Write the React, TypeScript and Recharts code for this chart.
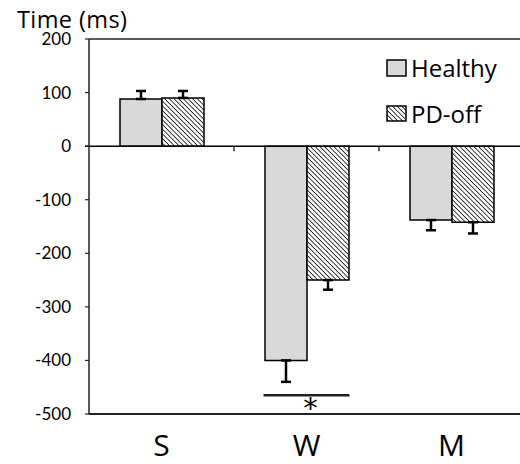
import { BarChart, Bar, XAxis, YAxis, ErrorBar, ReferenceLine } from "recharts";

const categories = ["S", "W", "M"];
const healthy = [88, -400, -138];
const healthyErr = [15, 40, 19];
const pdOff = [90, -250, -142];
const pdOffErr = [13, 18, 21];
const yTicks = [200, 100, 0, -100, -200, -300, -400, -500];
const sigCategory = "W";
const sigLevel = -465;

const FONT = "Lato, 'Open Sans', sans-serif";
const LABEL_FONT = "'Open Sans', sans-serif";
const BAR = 42;

// one-sided error: away from zero only
const oneSided = (v: number, e: number) => (v >= 0 ? [0, e] : [e, 0]);

const data = categories.map((c, i) => ({
    cat: c,
    healthy: healthy[i],
    healthyErr: oneSided(healthy[i], healthyErr[i]),
    pdOff: pdOff[i],
    pdOffErr: oneSided(pdOff[i], pdOffErr[i]),
}));

const Hatch = ({ id }: { id: string }) => (
    <pattern id={id} width="3.3" height="3.3" patternUnits="userSpaceOnUse" patternTransform="rotate(-45)">
        <rect width="3.3" height="3.3" fill="#fff" />
        <line x1="0" y1="0" x2="0" y2="3.3" stroke="#000" strokeWidth="1.5" />
    </pattern>
);

const LegendBox = () => (
    <div style={{ position: "absolute", left: 386, top: 53, fontFamily: LABEL_FONT, fontSize: 24, color: "#000", lineHeight: "30px" }}>
        <div style={{ display: "flex", alignItems: "center", height: 30 }}>
            <svg width={22} height={18} style={{ marginRight: 3 }}>
                <rect x={1} y={1} width={19} height={16} fill="#d9d9d9" stroke="#000" strokeWidth={1.5} />
            </svg>
            Healthy
        </div>
        <div style={{ display: "flex", alignItems: "center", height: 30, marginTop: 16 }}>
            <svg width={22} height={18} style={{ marginRight: 3 }}>
                <defs>
                    <Hatch id="hatchLegend" />
                </defs>
                <rect x={1} y={1} width={19} height={15} fill="url(#hatchLegend)" stroke="#000" strokeWidth={1.5} />
            </svg>
            PD-off
        </div>
    </div>
);

const ZeroLine = (props: any) => {
    const { x1, x2, y1 } = props;
    const band = (x2 - x1) / categories.length;
    return (
        <g>
            <line x1={x1 - 4} x2={x2} y1={y1} y2={y1} stroke="#000" strokeWidth={1.5} />
            {categories.slice(1).map((_, i) => (
                <line key={i} x1={x1 + band * (i + 1)} x2={x1 + band * (i + 1)} y1={y1} y2={y1 + 5} stroke="#000" strokeWidth={1.2} />
            ))}
        </g>
    );
};

const SigLine = (props: any) => {
    const { x1, x2, y1 } = props;
    const band = (x2 - x1) / categories.length;
    const cx = x1 + band * (categories.indexOf(sigCategory) + 0.5);
    return (
        <g>
            <line x1={cx - BAR - 1} x2={cx + BAR + 1} y1={y1} y2={y1} stroke="#222" strokeWidth={2.5} />
            <text x={cx + 4} y={y1 + 23} textAnchor="middle" fontSize={29} fontFamily="'DejaVu Sans', sans-serif" fill="#000">*</text>
        </g>
    );
};

export default function App() {
    return (
        <div style={{ position: "absolute", left: 0, top: 0, width: 520, height: 464, overflow: "hidden", background: "#fff" }}>
            <BarChart
                width={526}
                height={464}
                data={data}
                margin={{ top: 39, right: 2, bottom: 0, left: 0 }}
                barGap={0}
                barSize={BAR}
            >
                <defs>
                    <Hatch id="hatchBar" />
                </defs>
                <XAxis
                    dataKey="cat"
                    height={50}
                    tickLine={false}
                    axisLine={{ stroke: "#222", strokeWidth: 2 }}
                    tick={{ fontSize: 30, fill: "#000", fontFamily: LABEL_FONT }}
                    tickMargin={15}
                />
                <YAxis
                    width={89}
                    domain={[-500, 200]}
                    ticks={yTicks}
                    interval={0}
                    tickSize={4}
                    tickMargin={14}
                    tickLine={{ stroke: "#222", strokeWidth: 1.2 }}
                    axisLine={{ stroke: "#222", strokeWidth: 1.5 }}
                    tick={{ fontSize: 17, fill: "#000", fontFamily: FONT }}
                />
                <ReferenceLine y={200} stroke="#222" strokeWidth={1.5} />
                <ReferenceLine y={0} shape={ZeroLine} />
                <Bar dataKey="healthy" fill="#d9d9d9" stroke="#000" strokeWidth={1.5} isAnimationActive={false}>
                    <ErrorBar dataKey="healthyErr" width={5} stroke="#000" strokeWidth={2.5} />
                </Bar>
                <Bar dataKey="pdOff" fill="url(#hatchBar)" stroke="#000" strokeWidth={1.5} isAnimationActive={false}>
                    <ErrorBar dataKey="pdOffErr" width={5} stroke="#000" strokeWidth={2.5} />
                </Bar>
                <ReferenceLine y={sigLevel} shape={SigLine} />
            </BarChart>
            <svg width={200} height={36} style={{ position: "absolute", left: 0, top: 0 }}>
                <text x={17} y={28} fontSize={23.5} letterSpacing={0.4} fontFamily={LABEL_FONT} fill="#000">Time (ms)</text>
            </svg>
            <LegendBox />
        </div>
    );
}
